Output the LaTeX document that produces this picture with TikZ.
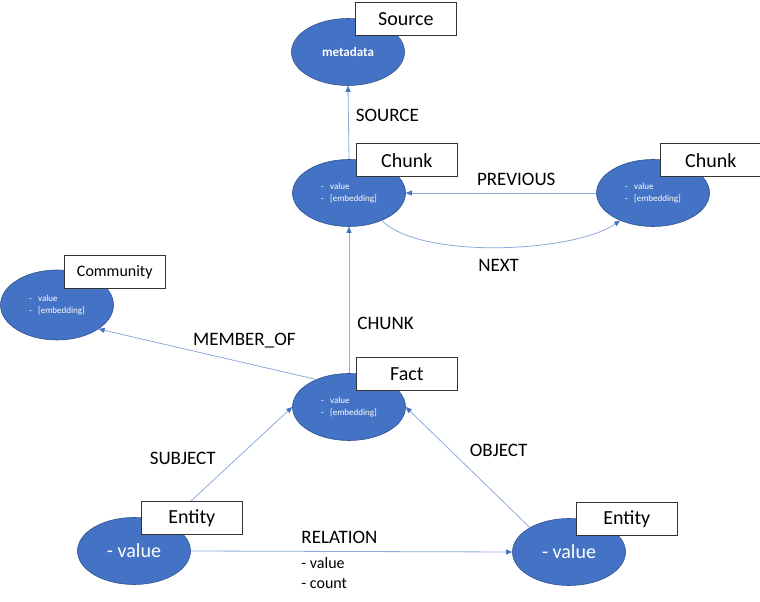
\documentclass[tikz,border=0pt]{standalone}
\usepackage{fontspec}
\setmainfont{Carlito}
\usetikzlibrary{positioning,arrows.meta,shapes.geometric,calc}
\definecolor{nodeblue}{HTML}{4472C4}
\definecolor{nodeedge}{HTML}{2F528F}
\definecolor{linkblue}{HTML}{8FAADC}
\newcommand{\itm}[1]{\makebox[9pt][l]{-}#1}

\begin{document}
\begin{tikzpicture}[x=1pt, y=1pt,
  item/.style={ellipse, draw=nodeedge, fill=nodeblue, line width=0.6pt, minimum width=113pt,
               minimum height=67pt, inner sep=0pt, text=white, align=left, font=\fontsize{9}{11.5}\selectfont},
  tag/.style={draw=black!80, fill=white, line width=0.6pt, minimum width=101pt, minimum height=33pt,
              inner sep=0pt, anchor=south west, font=\fontsize{20}{24}\selectfont},
  link/.style={draw=linkblue, line width=0.8pt, -{Triangle[length=6pt, width=5pt, color=nodeblue]}},
  lbl/.style={font=\fontsize{19}{22}\selectfont, inner sep=0pt}]
\useasboundingbox (0,0) rectangle (760,602);
% ellipses
\node[item, font=\fontsize{13}{15}\selectfont\bfseries] (src) at (348,550) {metadata};
\node[item] (chunkA) at (349,409) {\itm{value}\\\itm{[embedding]}};
\node[item] (chunkB) at (653,409) {\itm{value}\\\itm{[embedding]}};
\node[item, minimum height=70pt] (comm) at (57,297) {\itm{value}\\\itm{[embedding]}};
\node[item] (fact) at (349,195) {\itm{value}\\\itm{[embedding]}};
\node[item, font=\fontsize{20}{24}\selectfont] (entA) at (134,51) {- value};
\node[item, font=\fontsize{20}{24}\selectfont] (entB) at (569,50) {- value};
% relations
\draw[link] (chunkA.north) -- (src.south) node[lbl, pos=0.59, right=7pt] (lsrc) {SOURCE};
\draw[link] (chunkB.west) -- (chunkA.east) node[lbl, pos=0.42, above=7pt] (lprev) {PREVIOUS};
\draw[link] (chunkA.-40) to[out=-45, in=-145, looseness=0.6]
  node[lbl, pos=0.5, below=12pt] (lnext) {NEXT} (chunkB.-140);
\draw[link] (fact.north) -- (chunkA.south) node[lbl, pos=0.34, right=8pt] (lchunk) {CHUNK};
\draw[link] (fact.140) -- (comm.-30) node[lbl, pos=0.33, above=14pt] (lmem) {MEMBER\_OF};
\draw[link] (entA.40) -- (fact.180) node[lbl, pos=0.56, left=21pt] (lsubj) {SUBJECT};
\draw[link] (entB.148) -- (fact.0) node[lbl, pos=0.64, right=19pt] (lobj) {OBJECT};
\draw[link] (entA.east) -- (entB.west)
  node[lbl, pos=0.343, above right=7pt and 0pt] (lrel) {RELATION}
  node[lbl, pos=0.343, below right=6pt and 0pt, align=left, font=\fontsize{16}{20}\selectfont] (lrelv) {- value\\- count};
% name tags
\node[tag] (srcT) at ($(src.center)+(7,16)$) {Source};
\node[tag] (chunkAT) at ($(chunkA.center)+(7,16)$) {Chunk};
\node[tag] (chunkBT) at ($(chunkB.center)+(7,16)$) {Chunk};
\node[tag, font=\fontsize{16}{20}\selectfont] (commT) at ($(comm.center)+(7,16)$) {Community};
\node[tag] (factT) at ($(fact.center)+(7,16)$) {Fact};
\node[tag] (entAT) at ($(entA.center)+(7,16)$) {Entity};
\node[tag] (entBT) at ($(entB.center)+(7,16)$) {Entity};
\end{tikzpicture}
\end{document}
